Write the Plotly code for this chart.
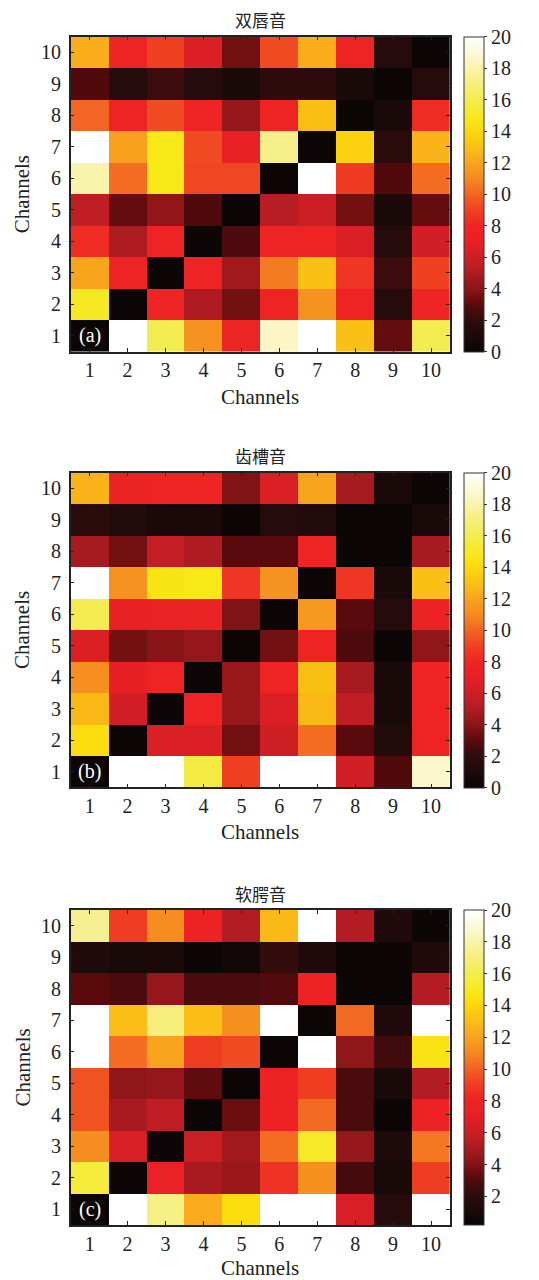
import plotly.graph_objects as go

channels = list(range(1, 11))
tick_vals = channels

titles = ["双唇音", "齿槽音", "软腭音"]
panel_labels = ["(a)", "(b)", "(c)"]

# rows listed from Channel 10 (top) down to Channel 1 (bottom)
bilabial = [
    [12.3, 8.0, 9.0, 6.5, 3.5, 9.3, 12.3, 8.0, 1.5, 0.2],
    [2.8, 1.5, 2.3, 1.5, 0.9, 2.0, 2.0, 0.9, 0.2, 1.5],
    [10.0, 8.0, 9.3, 7.8, 4.3, 8.0, 13.0, 0.1, 0.9, 8.3],
    [20.0, 11.8, 14.8, 9.3, 7.2, 17.3, 0.1, 13.7, 1.8, 12.5],
    [18.0, 10.2, 14.8, 9.2, 9.2, 0.1, 20.0, 8.8, 2.8, 10.2],
    [5.5, 3.2, 4.2, 2.8, 0.1, 5.3, 6.0, 3.5, 0.9, 3.2],
    [8.3, 5.0, 7.8, 0.1, 2.7, 7.8, 8.0, 6.5, 1.5, 6.2],
    [12.0, 7.8, 0.1, 7.8, 4.6, 10.6, 13.0, 8.6, 2.3, 9.0],
    [15.0, 0.1, 7.8, 5.0, 3.5, 8.0, 11.3, 8.0, 1.5, 7.8],
    [0.1, 20.0, 16.0, 11.3, 7.9, 18.5, 20.0, 13.0, 3.2, 16.0],
]

alveolar = [
    [12.5, 7.7, 8.0, 8.0, 3.8, 6.5, 12.0, 4.8, 0.9, 0.2],
    [1.8, 1.3, 1.0, 1.0, 0.2, 1.5, 1.4, 0.1, 0.1, 0.9],
    [4.8, 3.5, 5.7, 5.0, 3.0, 3.0, 8.0, 0.1, 0.1, 4.8],
    [20.0, 11.3, 14.6, 14.8, 8.6, 11.3, 0.1, 8.6, 0.9, 13.0],
    [16.0, 7.2, 7.5, 7.7, 3.8, 0.1, 11.5, 3.0, 1.5, 7.7],
    [6.5, 3.5, 4.0, 4.3, 0.1, 3.5, 8.0, 2.7, 0.1, 4.2],
    [11.2, 7.0, 7.8, 0.1, 4.4, 7.8, 13.0, 4.8, 0.9, 8.0],
    [12.7, 6.2, 0.1, 7.8, 4.4, 6.5, 12.7, 5.5, 0.9, 8.0],
    [14.2, 0.1, 6.5, 6.5, 3.5, 6.0, 10.2, 3.0, 1.3, 7.8],
    [0.1, 20.0, 20.0, 15.7, 9.0, 20.0, 20.0, 6.2, 2.8, 18.7],
]

velar = [
    [17.5, 9.0, 11.2, 7.8, 5.3, 12.8, 20.0, 5.3, 1.4, 0.3],
    [1.4, 1.0, 1.2, 0.3, 0.7, 2.3, 1.4, 0.3, 0.3, 1.4],
    [3.2, 2.8, 4.5, 2.8, 2.8, 3.0, 7.8, 0.3, 0.3, 5.3],
    [20.0, 13.0, 17.0, 13.0, 11.3, 20.0, 0.3, 10.2, 1.4, 20.0],
    [20.0, 10.3, 12.0, 9.0, 9.4, 0.3, 20.0, 4.3, 2.6, 14.6],
    [9.6, 4.3, 4.5, 3.3, 0.3, 7.8, 9.0, 2.8, 1.0, 5.3],
    [9.6, 5.0, 5.7, 0.3, 3.5, 7.8, 10.2, 2.8, 0.3, 7.8],
    [11.2, 6.5, 0.3, 6.0, 4.8, 10.3, 15.2, 4.5, 1.3, 10.6],
    [15.6, 0.3, 7.5, 5.0, 4.6, 8.6, 11.3, 2.7, 1.0, 9.0],
    [0.3, 20.0, 17.2, 12.3, 14.3, 20.0, 20.0, 6.5, 1.8, 20.0],
]

z_ranges = [(0, 20), (0, 20), (0.2, 20)]
cbar_ticks = [list(range(0, 21, 2)), list(range(0, 21, 2)), list(range(2, 21, 2))]

colorscale = [
    [0.00, "#0a0505"],
    [0.05, "#1c0a0a"],
    [0.10, "#2e0c0e"],
    [0.15, "#5a0a0c"],
    [0.20, "#8a1518"],
    [0.27, "#bc1e24"],
    [0.35, "#e81f25"],
    [0.40, "#ee2424"],
    [0.45, "#ef4022"],
    [0.50, "#f26522"],
    [0.55, "#f58a20"],
    [0.60, "#f8a51d"],
    [0.65, "#fbc015"],
    [0.70, "#fcd80c"],
    [0.74, "#f8e818"],
    [0.80, "#f3ec50"],
    [0.87, "#f7f08e"],
    [0.93, "#fbf7c8"],
    [1.00, "#ffffff"],
]

# page body adds an 8px offset; figure is sized/positioned to compensate
OFF = 8
W, H = 539 - OFF, 1280 - OFF
FONT = "Liberation Serif, DejaVu Serif, serif"
CJK = "Noto Sans CJK SC"
FS = 20

def px(p):
    return (p - OFF) / W

def py(p):
    return 1 - (p - OFF) / H

x_left, x_right = 70.7, 450.0
panels_px = [(36.7, 351.7, 19, 397), (472.7, 787.3, 456, 832), (910.0, 1225.0, 893, 1268)]

fig = go.Figure()
datas = [bilabial, alveolar, velar]
annotations = []
for i, data in enumerate(datas):
    top, bot, title_y, xlab_y = panels_px[i]
    z = data[::-1]
    zmin, zmax = z_ranges[i]
    n = i + 1
    xa = "x" if n == 1 else f"x{n}"
    ya = "y" if n == 1 else f"y{n}"
    fig.add_trace(go.Heatmap(
        z=z, x=channels, y=channels, xaxis=xa, yaxis=ya,
        colorscale=colorscale, zmin=zmin, zmax=zmax,
        xgap=0, ygap=0,
        colorbar=dict(
            x=px(464), xanchor="left", xpad=0,
            y=py(top), yanchor="top", ypad=0,
            lenmode="pixels", len=bot - top,
            thickness=20, thicknessmode="pixels",
            outlinecolor="#333", outlinewidth=1,
            tickvals=cbar_ticks[i], ticks="outside", ticklen=3,
            tickcolor="#333",
            tickfont=dict(family=FONT, size=FS, color="#222"),
        ),
    ))
    axis_common = dict(
        range=[0.5, 10.5], tickvals=tick_vals, ticks="inside", ticklen=4,
        tickcolor="#222", showline=True, linecolor="#222", linewidth=1.5,
        mirror="ticks", showgrid=False, zeroline=False,
        tickfont=dict(family=FONT, size=FS, color="#222"),
    )
    xkey = "xaxis" if n == 1 else f"xaxis{n}"
    ykey = "yaxis" if n == 1 else f"yaxis{n}"
    fig.update_layout(**{
        xkey: dict(axis_common, domain=[px(x_left), px(x_right)], anchor=ya),
        ykey: dict(axis_common, domain=[py(bot), py(top)], anchor=xa, ticklabelstandoff=4),
    })
    cx = px((x_left + x_right) / 2)
    annotations.append(dict(text=titles[i], x=cx, y=py(title_y), xref="paper", yref="paper",
                            showarrow=False, xanchor="center", yanchor="middle",
                            borderpad=0,
                            font=dict(family=CJK, size=17, color="#222")))
    annotations.append(dict(text="Channels", x=cx, y=py(xlab_y), xref="paper", yref="paper",
                            showarrow=False, xanchor="center", yanchor="middle",
                            borderpad=0,
                            font=dict(family=FONT, size=21, color="#222")))
    annotations.append(dict(text="Channels", x=px(22), y=py((top + bot) / 2), xref="paper", yref="paper",
                            showarrow=False, xanchor="center", yanchor="middle", textangle=-90,
                            font=dict(family=FONT, size=21, color="#222")))
    annotations.append(dict(text=panel_labels[i], x=1, y=1, xref=xa, yref=ya,
                            showarrow=False, xanchor="center", yanchor="middle",
                            font=dict(family=FONT, size=FS, color="white")))

fig.update_layout(
    width=W, height=H, margin=dict(l=0, r=0, t=0, b=0),
    paper_bgcolor="white", plot_bgcolor="white",
    annotations=annotations, showlegend=False,
)

fig.write_html("out.html")
